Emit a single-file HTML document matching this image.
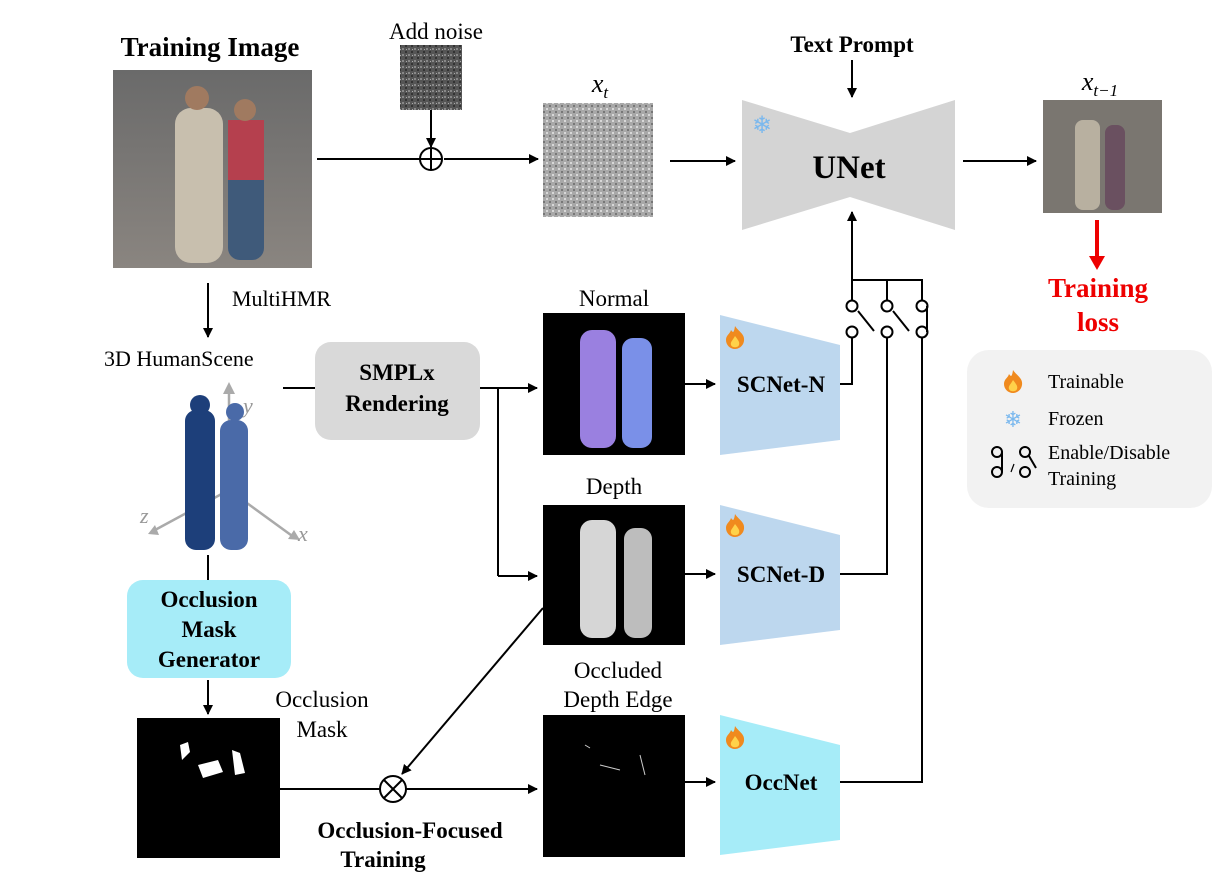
<!DOCTYPE html><html><head><style>body{margin:0;background:#fff}svg{display:block}text{font-family:"Liberation Serif",serif}</style></head><body>
<svg width="1215" height="892" viewBox="0 0 1215 892" xmlns="http://www.w3.org/2000/svg">
<defs>
<marker id="a" markerWidth="10" markerHeight="10" refX="9" refY="5" orient="auto" markerUnits="userSpaceOnUse"><path d="M0,0L10,5L0,10z" fill="#000"/></marker>
<linearGradient id="bg" x1="0" y1="0" x2="0" y2="1"><stop offset="0" stop-color="#6a6a6a"/><stop offset="1" stop-color="#8a8580"/></linearGradient>
<pattern id="nz" width="6" height="6" patternUnits="userSpaceOnUse"><rect width="6" height="6" fill="#555"/><rect x="0" y="0" width="2" height="2" fill="#888"/><rect x="3" y="3" width="2" height="2" fill="#333"/><rect x="4" y="1" width="1" height="1" fill="#aaa"/></pattern>
<pattern id="nz2" width="6" height="6" patternUnits="userSpaceOnUse"><rect width="6" height="6" fill="#a8a8a8"/><rect x="0" y="0" width="2" height="2" fill="#d8d8d8"/><rect x="3" y="3" width="2" height="2" fill="#777"/></pattern>
<g id="fl"><path d="M0,-12C4,-6 10,-4 9,3C8,9 3,11 0,11C-5,11 -9,7 -9,2C-9,-3 -5,-4 -4,-8C-2,-5 -1,-5 0,-12z" fill="#f08a1e"/><path d="M0,-2C3,2 5,4 4,7C3,10 -3,10 -4,7C-5,4 -2,2 0,-2z" fill="#ffd24a"/></g>
</defs>
<text x="210" y="56" font-size="27" font-weight="bold" text-anchor="middle">Training Image</text>
<text x="436" y="39" font-size="23" text-anchor="middle">Add noise</text>
<text x="852" y="52" font-size="23" font-weight="bold" text-anchor="middle">Text Prompt</text>
<text x="600" y="92" font-size="26" font-style="italic" text-anchor="middle">x<tspan font-size="17" dy="6">t</tspan></text>
<text x="1100" y="90" font-size="26" font-style="italic" text-anchor="middle">x<tspan font-size="17" dy="6">t−1</tspan></text>
<rect x="113" y="70" width="199" height="198" fill="url(#bg)"/>
<rect x="175" y="108" width="48" height="155" rx="16" fill="#c8bfae"/><circle cx="197" cy="98" r="12" fill="#a07a60"/>
<rect x="228" y="120" width="36" height="140" rx="12" fill="#3f5a7a"/><rect x="228" y="120" width="36" height="60" fill="#b5404e"/><circle cx="245" cy="110" r="11" fill="#a07a60"/>
<rect x="400" y="45" width="62" height="65" fill="url(#nz)"/>
<rect x="543" y="103" width="110" height="114" fill="url(#nz2)"/>
<rect x="1043" y="100" width="119" height="113" fill="#7a7670"/>
<rect x="1075" y="120" width="25" height="90" rx="8" fill="#b8b0a0"/><rect x="1105" y="125" width="20" height="85" rx="8" fill="#6a5060"/>
<line x1="317" y1="159" x2="420" y2="159" stroke="#000" stroke-width="2"/>
<line x1="444" y1="159" x2="538" y2="159" stroke="#000" stroke-width="2" marker-end="url(#a)"/>
<line x1="431" y1="110" x2="431" y2="147" stroke="#000" stroke-width="2" marker-end="url(#a)"/>
<circle cx="431" cy="159" r="11" fill="#fff" stroke="#000" stroke-width="2"/><path d="M420,159H442M431,148V170" stroke="#000" stroke-width="2"/>
<line x1="670" y1="161" x2="735" y2="161" stroke="#000" stroke-width="2" marker-end="url(#a)"/>
<line x1="852" y1="60" x2="852" y2="97" stroke="#000" stroke-width="2" marker-end="url(#a)"/>
<line x1="963" y1="161" x2="1036" y2="161" stroke="#000" stroke-width="2" marker-end="url(#a)"/>
<polygon points="742,100 850,133 955,100 955,230 850,197 742,230" fill="#d4d4d4"/>
<text x="849" y="178" font-size="33" font-weight="bold" text-anchor="middle">UNet</text>
<text x="762" y="133" font-size="24" fill="#7ab8ee" text-anchor="middle" font-family="DejaVu Sans">❄</text>
<line x1="1097" y1="220" x2="1097" y2="262" stroke="#e00" stroke-width="4"/><path d="M1089,256L1105,256L1097,270z" fill="#e00"/>
<text x="1098" y="297" font-size="27" font-weight="bold" fill="#e00" text-anchor="middle">Training</text>
<text x="1098" y="331" font-size="27" font-weight="bold" fill="#e00" text-anchor="middle">loss</text>
<rect x="967" y="350" width="245" height="158" rx="22" fill="#f2f2f2"/>
<use href="#fl" x="1013" y="382"/>
<text x="1048" y="388" font-size="20">Trainable</text>
<text x="1013" y="427" font-size="22" text-anchor="middle" fill="#7ab8ee" font-family="DejaVu Sans">❄</text>
<text x="1048" y="425" font-size="20">Frozen</text>
<text x="1048" y="459" font-size="20">Enable/Disable</text>
<text x="1048" y="485" font-size="20">Training</text>
<g stroke="#000" stroke-width="2" fill="none"><circle cx="997" cy="452" r="5"/><circle cx="997" cy="472" r="5"/><path d="M1002,452V472"/><circle cx="1025" cy="452" r="5"/><circle cx="1025" cy="472" r="5"/><path d="M1029,456L1036,468"/><path d="M1014,464L1011,472" stroke-width="1.2"/></g>
<line x1="208" y1="283" x2="208" y2="337" stroke="#000" stroke-width="2" marker-end="url(#a)"/>
<text x="232" y="306" font-size="22">MultiHMR</text>
<text x="104" y="366" font-size="22">3D HumanScene</text>
<line x1="283" y1="388" x2="315" y2="388" stroke="#000" stroke-width="2"/>
<g stroke="#aaa" stroke-width="2.5"><line x1="229" y1="490" x2="229" y2="392"/><line x1="229" y1="490" x2="155" y2="530"/><line x1="229" y1="490" x2="295" y2="538"/></g>
<path d="M229,382l-6,12h12z M148,534l7,-9 4,10z M300,540l-12,-1 6,-9z" fill="#aaa"/>
<text x="243" y="413" font-size="22" font-style="italic" fill="#999">y</text>
<text x="140" y="523" font-size="22" font-style="italic" fill="#999">z</text>
<text x="298" y="541" font-size="22" font-style="italic" fill="#999">x</text>
<rect x="185" y="410" width="30" height="140" rx="11" fill="#1d3f7a"/><circle cx="200" cy="405" r="10" fill="#1d3f7a"/>
<rect x="220" y="420" width="28" height="130" rx="11" fill="#4a6aa8"/><circle cx="235" cy="412" r="9" fill="#4a6aa8"/>
<line x1="208" y1="555" x2="208" y2="580" stroke="#000" stroke-width="2"/>
<rect x="127" y="580" width="164" height="98" rx="16" fill="#a6ecf8"/>
<text x="209" y="607" font-size="23" font-weight="bold" text-anchor="middle">Occlusion</text>
<text x="209" y="637" font-size="23" font-weight="bold" text-anchor="middle">Mask</text>
<text x="209" y="667" font-size="23" font-weight="bold" text-anchor="middle">Generator</text>
<line x1="208" y1="680" x2="208" y2="714" stroke="#000" stroke-width="2" marker-end="url(#a)"/>
<text x="322" y="707" font-size="23" text-anchor="middle">Occlusion</text>
<text x="322" y="737" font-size="23" text-anchor="middle">Mask</text>
<rect x="137" y="718" width="143" height="140" fill="#000"/>
<path d="M180,745l8,-3 2,10 -8,8z M198,765l20,-5 5,12 -20,6z M232,750l8,3 5,20 -10,2z" fill="#fff"/>
<rect x="315" y="342" width="165" height="98" rx="16" fill="#d9d9d9"/>
<text x="397" y="380" font-size="23" font-weight="bold" text-anchor="middle">SMPLx</text>
<text x="397" y="411" font-size="23" font-weight="bold" text-anchor="middle">Rendering</text>
<line x1="480" y1="388" x2="537" y2="388" stroke="#000" stroke-width="2" marker-end="url(#a)"/>
<line x1="498" y1="388" x2="498" y2="576" stroke="#000" stroke-width="2"/>
<line x1="498" y1="576" x2="537" y2="576" stroke="#000" stroke-width="2" marker-end="url(#a)"/>
<text x="614" y="306" font-size="23" text-anchor="middle">Normal</text>
<rect x="543" y="313" width="142" height="142" fill="#000"/>
<rect x="580" y="330" width="36" height="118" rx="12" fill="#9a80e0"/><rect x="622" y="338" width="30" height="110" rx="11" fill="#7a90e8"/>
<text x="614" y="494" font-size="23" text-anchor="middle">Depth</text>
<rect x="543" y="505" width="142" height="140" fill="#000"/>
<rect x="580" y="520" width="36" height="118" rx="12" fill="#d6d6d6"/><rect x="624" y="528" width="28" height="110" rx="11" fill="#bdbdbd"/>
<text x="618" y="678" font-size="23" text-anchor="middle">Occluded</text>
<text x="618" y="707" font-size="23" text-anchor="middle">Depth Edge</text>
<rect x="543" y="715" width="142" height="142" fill="#000"/>
<path d="M585,745l5,3 M600,765l20,5 M640,755l5,20" stroke="#ccc" stroke-width="1"/>
<line x1="280" y1="789" x2="380" y2="789" stroke="#000" stroke-width="2"/>
<line x1="406" y1="789" x2="537" y2="789" stroke="#000" stroke-width="2" marker-end="url(#a)"/>
<line x1="543" y1="608" x2="402" y2="774" stroke="#000" stroke-width="2" marker-end="url(#a)"/>
<circle cx="393" cy="789" r="13" fill="#fff" stroke="#000" stroke-width="2"/><path d="M384,780L402,798M402,780L384,798" stroke="#000" stroke-width="2"/>
<text x="410" y="838" font-size="23" font-weight="bold" text-anchor="middle">Occlusion-Focused</text>
<text x="383" y="867" font-size="23" font-weight="bold" text-anchor="middle">Training</text>
<line x1="685" y1="384" x2="715" y2="384" stroke="#000" stroke-width="2" marker-end="url(#a)"/>
<line x1="685" y1="574" x2="715" y2="574" stroke="#000" stroke-width="2" marker-end="url(#a)"/>
<line x1="685" y1="782" x2="715" y2="782" stroke="#000" stroke-width="2" marker-end="url(#a)"/>
<polygon points="720,315 840,345 840,440 720,455" fill="#bdd7ee"/>
<polygon points="720,505 840,535 840,630 720,645" fill="#bdd7ee"/>
<polygon points="720,715 840,745 840,840 720,855" fill="#a6ecf8"/>
<use href="#fl" x="735" y="338"/><use href="#fl" x="735" y="526"/><use href="#fl" x="735" y="738"/>
<text x="781" y="392" font-size="23" font-weight="bold" text-anchor="middle">SCNet-N</text>
<text x="781" y="582" font-size="23" font-weight="bold" text-anchor="middle">SCNet-D</text>
<text x="781" y="790" font-size="23" font-weight="bold" text-anchor="middle">OccNet</text>
<g stroke="#000" stroke-width="2" fill="none">
<path d="M840,384H852V338"/>
<path d="M840,574H887V338"/>
<path d="M840,782H922V338"/>
<path d="M852,300V280H922V300M887,280V300"/>
<line x1="852" y1="280" x2="852" y2="212" marker-end="url(#a)"/>
<circle cx="852" cy="306" r="5.5" fill="#fff"/><circle cx="852" cy="332" r="5.5" fill="#fff"/>
<circle cx="887" cy="306" r="5.5" fill="#fff"/><circle cx="887" cy="332" r="5.5" fill="#fff"/>
<circle cx="922" cy="306" r="5.5" fill="#fff"/><circle cx="922" cy="332" r="5.5" fill="#fff"/>
<path d="M858,311L874,331M893,311L909,331M927,306V332"/>
</g>
</svg>
</body></html>
